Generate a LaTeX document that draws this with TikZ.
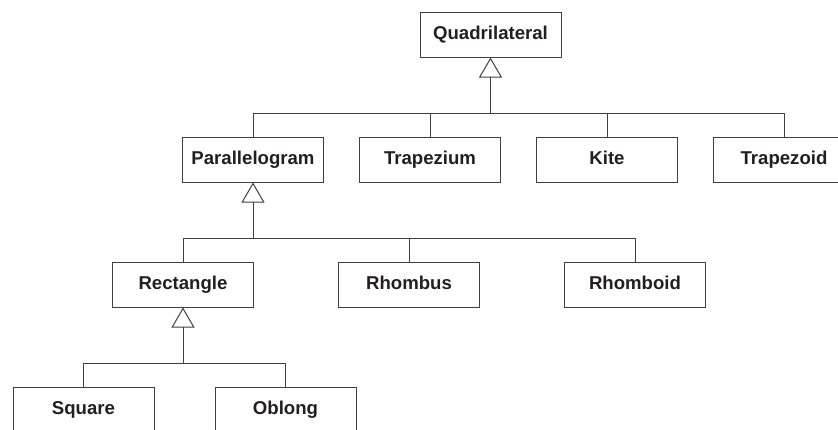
\documentclass[tikz,border=0pt]{standalone}
\usepackage{fontspec}
\setmainfont{Liberation Sans}
\usetikzlibrary{positioning,arrows.meta}
\definecolor{linegray}{HTML}{404040}
\definecolor{textgray}{HTML}{231F20}

\begin{document}
\begin{tikzpicture}[x=0.5pt,y=-0.5pt,node distance=17.5pt,
    box/.style={rectangle,draw=linegray,line width=0.5pt,minimum width=70.5pt,
      minimum height=22.5pt,inner sep=1pt,text=textgray,
      text height=6.9pt,text depth=1.9pt,
      font=\fontsize{9.3}{11}\selectfont\bfseries},
    line/.style={draw=linegray,line width=0.5pt},
    isa/.style={line,-{Triangle[open,width=11.5pt,length=10pt]}}]
  \useasboundingbox (0,0) rectangle (838,429);
  \clip (0,0) rectangle (838,429);

  % top
  \node[box] (quad) at (490.5,34.5) {Quadrilateral};
  % second row
  \node[box] (para) at (253,159.5) {Parallelogram};
  \node[box,right=of para] (trapezium) {Trapezium};
  \node[box,right=of trapezium] (kite) {Kite};
  \node[box,right=of kite] (trapezoid) {Trapezoid};
  % third row
  \node[box] (rect) at (183,284.5) {Rectangle};
  \node[box,right=42pt of rect] (rhombus) {Rhombus};
  \node[box,right=42pt of rhombus] (rhomboid) {Rhomboid};
  % fourth row
  \node[box] (square) at (83.5,409.5) {Square};
  \node[box,right=30pt of square] (oblong) {Oblong};

  \coordinate (j1) at ([yshift=-28pt]quad.south);
  \coordinate (j2) at ([yshift=-28pt]para.south);
  \coordinate (j3) at ([yshift=-28pt]rect.south);

  \draw[isa] (j1) -- (quad.south);
  \draw[line] (para.north) |- (j1) -| (trapezoid.north);
  \draw[line] (trapezium.north) -- (trapezium.north |- j1);
  \draw[line] (kite.north) -- (kite.north |- j1);

  \draw[isa] (j2) -- (para.south);
  \draw[line] (rect.north) |- (j2) -| (rhomboid.north);
  \draw[line] (rhombus.north) -- (rhombus.north |- j2);

  \draw[isa] (j3) -- (rect.south);
  \draw[line] (square.north) |- (j3) -| (oblong.north);
\end{tikzpicture}
\end{document}
